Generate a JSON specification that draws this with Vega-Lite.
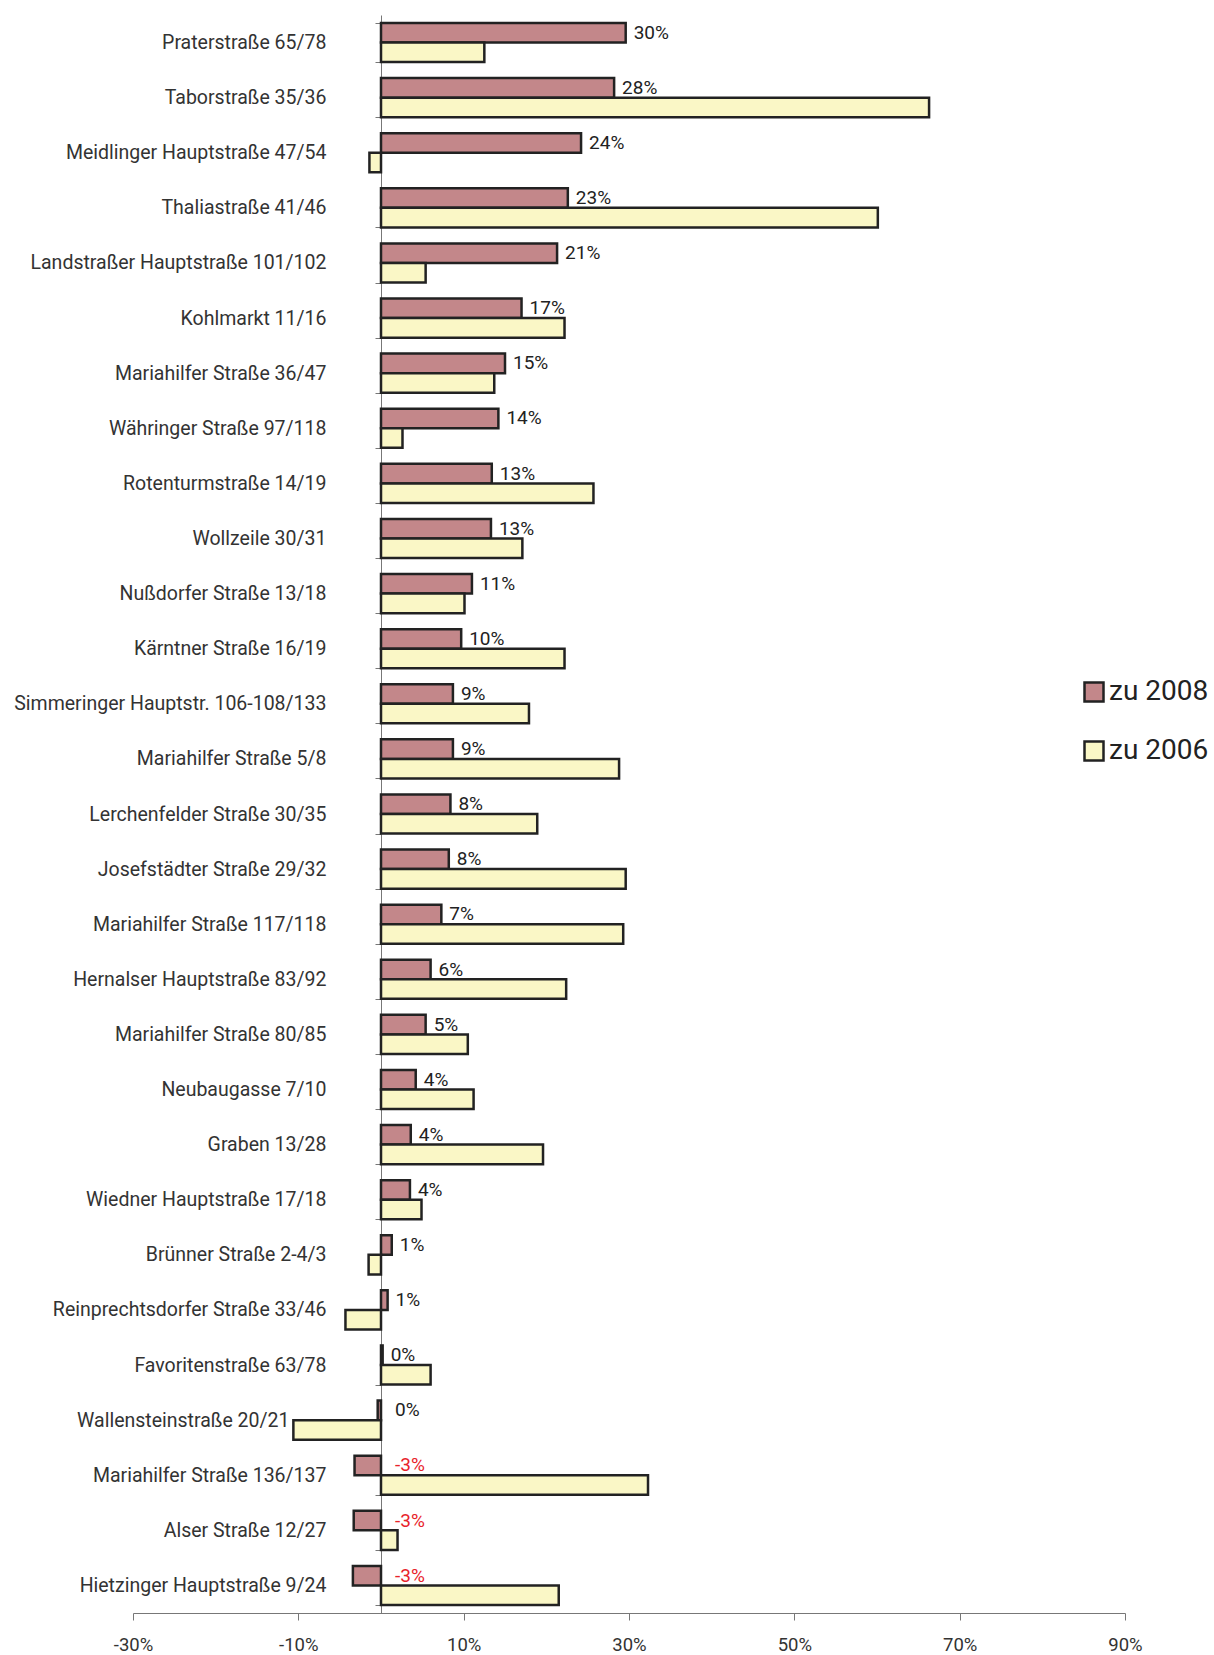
{
  "$schema": "https://vega.github.io/schema/vega-lite/v6.json",
  "autosize": {"type": "none"},
  "padding": {"left": 133, "top": 15, "right": 89, "bottom": 42},
  "width": 992,
  "height": 1598,
  "config": {
    "locale": {"number": {"decimal": ".", "thousands": ",", "grouping": [3], "currency": ["", ""], "minus": "-"}},
    "view": {"stroke": null},
    "font": "Roboto"
  },
  "data": {"values": [
    {"s": "Praterstraße 65/78", "g": "zu 2008", "v": 0.296},
    {"s": "Praterstraße 65/78", "g": "zu 2006", "v": 0.125},
    {"s": "Taborstraße 35/36", "g": "zu 2008", "v": 0.282},
    {"s": "Taborstraße 35/36", "g": "zu 2006", "v": 0.663},
    {"s": "Meidlinger Hauptstraße 47/54", "g": "zu 2008", "v": 0.242},
    {"s": "Meidlinger Hauptstraße 47/54", "g": "zu 2006", "v": -0.014},
    {"s": "Thaliastraße 41/46", "g": "zu 2008", "v": 0.226},
    {"s": "Thaliastraße 41/46", "g": "zu 2006", "v": 0.601},
    {"s": "Landstraßer Hauptstraße 101/102", "g": "zu 2008", "v": 0.213},
    {"s": "Landstraßer Hauptstraße 101/102", "g": "zu 2006", "v": 0.054},
    {"s": "Kohlmarkt 11/16", "g": "zu 2008", "v": 0.170},
    {"s": "Kohlmarkt 11/16", "g": "zu 2006", "v": 0.222},
    {"s": "Mariahilfer Straße 36/47", "g": "zu 2008", "v": 0.150},
    {"s": "Mariahilfer Straße 36/47", "g": "zu 2006", "v": 0.137},
    {"s": "Währinger Straße 97/118", "g": "zu 2008", "v": 0.142},
    {"s": "Währinger Straße 97/118", "g": "zu 2006", "v": 0.026},
    {"s": "Rotenturmstraße 14/19", "g": "zu 2008", "v": 0.134},
    {"s": "Rotenturmstraße 14/19", "g": "zu 2006", "v": 0.257},
    {"s": "Wollzeile 30/31", "g": "zu 2008", "v": 0.133},
    {"s": "Wollzeile 30/31", "g": "zu 2006", "v": 0.171},
    {"s": "Nußdorfer Straße 13/18", "g": "zu 2008", "v": 0.110},
    {"s": "Nußdorfer Straße 13/18", "g": "zu 2006", "v": 0.101},
    {"s": "Kärntner Straße 16/19", "g": "zu 2008", "v": 0.097},
    {"s": "Kärntner Straße 16/19", "g": "zu 2006", "v": 0.222},
    {"s": "Simmeringer Hauptstr. 106-108/133", "g": "zu 2008", "v": 0.087},
    {"s": "Simmeringer Hauptstr. 106-108/133", "g": "zu 2006", "v": 0.179},
    {"s": "Mariahilfer Straße 5/8", "g": "zu 2008", "v": 0.087},
    {"s": "Mariahilfer Straße 5/8", "g": "zu 2006", "v": 0.288},
    {"s": "Lerchenfelder Straße 30/35", "g": "zu 2008", "v": 0.084},
    {"s": "Lerchenfelder Straße 30/35", "g": "zu 2006", "v": 0.189},
    {"s": "Josefstädter Straße 29/32", "g": "zu 2008", "v": 0.082},
    {"s": "Josefstädter Straße 29/32", "g": "zu 2006", "v": 0.296},
    {"s": "Mariahilfer Straße 117/118", "g": "zu 2008", "v": 0.073},
    {"s": "Mariahilfer Straße 117/118", "g": "zu 2006", "v": 0.293},
    {"s": "Hernalser Hauptstraße 83/92", "g": "zu 2008", "v": 0.060},
    {"s": "Hernalser Hauptstraße 83/92", "g": "zu 2006", "v": 0.224},
    {"s": "Mariahilfer Straße 80/85", "g": "zu 2008", "v": 0.054},
    {"s": "Mariahilfer Straße 80/85", "g": "zu 2006", "v": 0.105},
    {"s": "Neubaugasse 7/10", "g": "zu 2008", "v": 0.042},
    {"s": "Neubaugasse 7/10", "g": "zu 2006", "v": 0.112},
    {"s": "Graben 13/28", "g": "zu 2008", "v": 0.036},
    {"s": "Graben 13/28", "g": "zu 2006", "v": 0.196},
    {"s": "Wiedner Hauptstraße 17/18", "g": "zu 2008", "v": 0.035},
    {"s": "Wiedner Hauptstraße 17/18", "g": "zu 2006", "v": 0.049},
    {"s": "Brünner Straße 2-4/3", "g": "zu 2008", "v": 0.013},
    {"s": "Brünner Straße 2-4/3", "g": "zu 2006", "v": -0.015},
    {"s": "Reinprechtsdorfer Straße 33/46", "g": "zu 2008", "v": 0.008},
    {"s": "Reinprechtsdorfer Straße 33/46", "g": "zu 2006", "v": -0.043},
    {"s": "Favoritenstraße 63/78", "g": "zu 2008", "v": 0.002},
    {"s": "Favoritenstraße 63/78", "g": "zu 2006", "v": 0.060},
    {"s": "Wallensteinstraße 20/21", "g": "zu 2008", "v": -0.004},
    {"s": "Wallensteinstraße 20/21", "g": "zu 2006", "v": -0.106},
    {"s": "Mariahilfer Straße 136/137", "g": "zu 2008", "v": -0.032},
    {"s": "Mariahilfer Straße 136/137", "g": "zu 2006", "v": 0.323},
    {"s": "Alser Straße 12/27", "g": "zu 2008", "v": -0.033},
    {"s": "Alser Straße 12/27", "g": "zu 2006", "v": 0.020},
    {"s": "Hietzinger Hauptstraße 9/24", "g": "zu 2008", "v": -0.034},
    {"s": "Hietzinger Hauptstraße 9/24", "g": "zu 2006", "v": 0.215}
  ]},
  "encoding": {
    "y": {
      "field": "s", "type": "nominal", "sort": null, "title": null,
      "scale": {"paddingInner": 0.29, "paddingOuter": 0.145},
      "axis": {
        "offset": -248, "tickBand": "extent", "tickSize": 6, "tickColor": "#777", "domainColor": "#777",
        "labelPadding": {"condition": {"test": "datum.label == 'Wallensteinstraße 20/21'", "value": 86}, "value": 49},
        "labelFontSize": 19.5, "labelColor": "#333", "labelFont": "Roboto", "labelLimit": 450
      }
    },
    "yOffset": {"field": "g", "type": "nominal", "sort": ["zu 2008", "zu 2006"], "scale": {"domain": ["zu 2008", "zu 2006"]}}
  },
  "layer": [
    {
      "mark": {"type": "bar", "stroke": "#222", "strokeWidth": 2.5},
      "encoding": {
        "x": {
          "field": "v", "type": "quantitative", "title": null,
          "scale": {"domain": [-0.3, 0.9], "nice": false, "zero": false},
          "axis": {
            "values": [-0.3, -0.1, 0.1, 0.3, 0.5, 0.7, 0.9], "format": ".0%", "grid": false,
            "tickSize": 7, "tickColor": "#777", "domainColor": "#777",
            "labelFontSize": 18.5, "labelColor": "#333", "labelPadding": 15, "labelFlush": false
          }
        },
        "color": {
          "field": "g", "type": "nominal", "title": null,
          "scale": {"domain": ["zu 2008", "zu 2006"], "range": ["#c3878a", "#faf7c6"]},
          "legend": {
            "orient": "none", "legendX": 947, "legendY": 663, "padding": 0,
            "symbolType": "square", "symbolSize": 361, "symbolStrokeColor": "#222", "symbolStrokeWidth": 2.5,
            "symbolOpacity": 1, "labelFontSize": 28, "labelColor": "#222", "labelOffset": 1, "rowPadding": 29, "labelLimit": 300
          }
        }
      }
    },
    {
      "transform": [{"filter": "datum.g == 'zu 2008' && datum.v >= 0"}],
      "mark": {"type": "text", "align": "left", "baseline": "middle", "dx": 8, "fontSize": 19, "color": "#222"},
      "encoding": {
        "x": {"field": "v", "type": "quantitative"},
        "text": {"field": "v", "type": "quantitative", "format": ".0%"}
      }
    },
    {
      "transform": [{"filter": "datum.g == 'zu 2008' && datum.v < 0"}],
      "mark": {"type": "text", "align": "left", "baseline": "middle", "dx": 14, "fontSize": 19},
      "encoding": {
        "x": {"datum": 0, "type": "quantitative"},
        "text": {"field": "v", "type": "quantitative", "format": ".0%"},
        "color": {"condition": {"test": "datum.v < -0.01", "value": "#e8232a"}, "value": "#222"}
      }
    }
  ]
}
